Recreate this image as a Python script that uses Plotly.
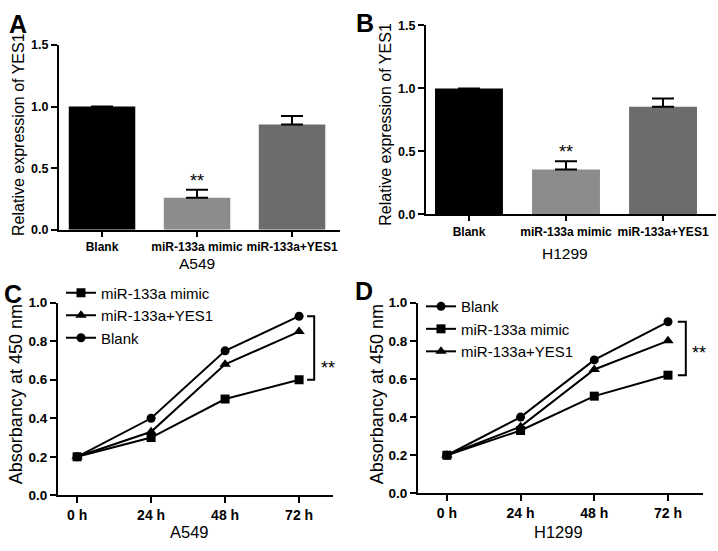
import plotly.graph_objects as go

# ---------------- data ----------------
bar_categories = ["Blank", "miR-133a mimic", "miR-133a+YES1"]
bar_colors = ["#000000", "#8c8c8c", "#6c6c6c"]
a549_expr = [1.0, 0.26, 0.855]
a549_err = [0.0, 0.065, 0.068]
h1299_expr = [1.0, 0.355, 0.855]
h1299_err = [0.0, 0.065, 0.065]

time_labels = ["0 h", "24 h", "48 h", "72 h"]
hours = [0, 24, 48, 72]
a549_mimic = [0.2, 0.30, 0.50, 0.60]
a549_yes1 = [0.2, 0.33, 0.68, 0.85]
a549_blank = [0.2, 0.40, 0.75, 0.93]
h1299_blank = [0.2, 0.40, 0.70, 0.90]
h1299_mimic = [0.2, 0.33, 0.51, 0.62]
h1299_yes1 = [0.2, 0.35, 0.65, 0.80]

FONT = "Arial, Liberation Sans, sans-serif"
W, H = 718, 551


def px_x(p):
    return p / W


def px_y(p):
    return 1 - p / H


fig = go.Figure()

cat_idx = list(range(len(bar_categories)))

# ---------------- bar panels ----------------
for expr, err, xa, ya in [(a549_expr, a549_err, "x", "y"), (h1299_expr, h1299_err, "x2", "y2")]:
    fig.add_trace(go.Bar(
        x=cat_idx, y=expr, xaxis=xa, yaxis=ya, width=0.7,
        marker=dict(color=bar_colors, line=dict(width=0)),
        error_y=dict(type="data", symmetric=False, array=err, arrayminus=[0] * len(err),
                     color="black", thickness=2, width=11),
        showlegend=False,
    ))

# ---------------- line panels ----------------
line_style = dict(color="black", width=2)
sym = {"mimic": "square", "yes1": "triangle-up", "blank": "circle"}
msize = {"mimic": 9, "yes1": 10, "blank": 9}

for name, key, vals in [("miR-133a mimic", "mimic", a549_mimic),
                        ("miR-133a+YES1", "yes1", a549_yes1),
                        ("Blank", "blank", a549_blank)]:
    fig.add_trace(go.Scatter(
        x=hours, y=vals, xaxis="x3", yaxis="y3", mode="lines+markers", name=name,
        line=line_style, marker=dict(symbol=sym[key], size=msize[key], color="black"),
        legend="legend", cliponaxis=False,
    ))

for name, key, vals in [("Blank", "blank", h1299_blank),
                        ("miR-133a mimic", "mimic", h1299_mimic),
                        ("miR-133a+YES1", "yes1", h1299_yes1)]:
    fig.add_trace(go.Scatter(
        x=hours, y=vals, xaxis="x4", yaxis="y4", mode="lines+markers", name=name,
        line=line_style, marker=dict(symbol=sym[key], size=msize[key], color="black"),
        legend="legend2", cliponaxis=False,
    ))

# ---------------- axes ----------------
axis_common = dict(showgrid=False, zeroline=False, showline=True, linecolor="black",
                   linewidth=2, ticks="outside", ticklen=6, tickwidth=2, tickcolor="black")

bar_xtick = dict(family=FONT, size=12, color="black", weight="bold")
bar_ytick = dict(family=FONT, size=12.5, color="black", weight="bold")
line_xtick = dict(family=FONT, size=14, color="black", weight="bold")
line_ytick = dict(family=FONT, size=13.5, color="black", weight="bold")

fig.update_layout(
    xaxis=dict(axis_common, domain=[px_x(59), px_x(340)], range=[-0.453, 2.505], anchor="y",
               tickvals=cat_idx, ticktext=bar_categories, tickfont=bar_xtick, ticklen=5),
    yaxis=dict(axis_common, domain=[px_y(229), px_y(39)], range=[0, 1.5], anchor="x",
               tickvals=[0, 0.5, 1.0, 1.5], tickformat=".1f", tickfont=bar_ytick),
    xaxis2=dict(axis_common, domain=[px_x(426), px_x(716)], range=[-0.443, 2.546], anchor="y2",
                tickvals=cat_idx, ticktext=bar_categories, tickfont=bar_xtick, ticklen=5),
    yaxis2=dict(axis_common, domain=[px_y(213), px_y(19)], range=[0, 1.5], anchor="x2",
                tickvals=[0, 0.5, 1.0, 1.5], tickformat=".1f", tickfont=bar_ytick),
    xaxis3=dict(axis_common, domain=[px_x(58), px_x(333)], range=[-6.2, 83.0], anchor="y3",
                tickvals=hours, ticktext=time_labels, tickfont=line_xtick),
    yaxis3=dict(axis_common, domain=[px_y(502), px_y(304)], range=[0, 1.0], anchor="x3",
                dtick=0.2, tickformat=".1f", tickfont=line_ytick),
    xaxis4=dict(axis_common, domain=[px_x(418), px_x(703)], range=[-9.4, 83.4], anchor="y4",
                tickvals=hours, ticktext=time_labels, tickfont=line_xtick),
    yaxis4=dict(axis_common, domain=[px_y(500), px_y(304)], range=[0, 1.0], anchor="x4",
                dtick=0.2, tickformat=".1f", tickfont=line_ytick),
)

legend_common = dict(font=dict(family=FONT, size=15, color="black"), bgcolor="rgba(0,0,0,0)",
                     borderwidth=0, tracegroupgap=0, itemwidth=30, xanchor="left", yanchor="top",
                     xref="paper", yref="paper")
fig.update_layout(
    legend=dict(legend_common, x=px_x(61), y=px_y(277)),
    legend2=dict(legend_common, x=px_x(421), y=px_y(291)),
)

# ---------------- annotations ----------------
ann = []
# panel letters
for txt, x, y in [("A", 18, 17), ("B", 365, 16), ("C", 13, 295), ("D", 364, 292)]:
    ann.append(dict(text=txt, x=px_x(x), y=px_y(y), xref="paper", yref="paper", showarrow=False,
                    xanchor="center", yanchor="middle",
                    font=dict(family=FONT, size=25, color="black", weight="bold")))
# y titles
for txt, x, y, s in [("Relative expression of YES1", 18.5, 131, 16),
                     ("Relative expression of YES1", 386, 121, 16),
                     ("Absorbancy at 450 nm", 16, 398, 18),
                     ("Absorbancy at 450 nm", 377, 398, 18)]:
    ann.append(dict(text=txt, x=px_x(x), y=px_y(y), xref="paper", yref="paper", showarrow=False,
                    textangle=-90, xanchor="center", yanchor="middle",
                    font=dict(family=FONT, size=s, color="black")))
# x titles
for txt, x, y, s in [("A549", 197, 264, 15.5), ("H1299", 565, 253, 15.5),
                     ("A549", 189, 540, 16.5), ("H1299", 558, 540, 16.5)]:
    ann.append(dict(text=txt, x=px_x(x), y=px_y(y), xref="paper", yref="paper", showarrow=False,
                    xanchor="center", yanchor="middle",
                    font=dict(family=FONT, size=s, color="black")))
# significance over bars
for xr, yr, expr, err in [("x", "y", a549_expr, a549_err), ("x2", "y2", h1299_expr, h1299_err)]:
    ann.append(dict(text="**", x=1, y=expr[1] + err[1], xref=xr, yref=yr, showarrow=False,
                    xanchor="center", yanchor="middle", yshift=9,
                    font=dict(family=FONT, size=18, color="black")))
# significance beside growth curves
ann.append(dict(text="**", x=px_x(328), y=px_y(371), xref="paper", yref="paper", showarrow=False,
                xanchor="center", yanchor="middle", font=dict(family=FONT, size=18, color="black")))
ann.append(dict(text="**", x=px_x(699), y=px_y(356), xref="paper", yref="paper", showarrow=False,
                xanchor="center", yanchor="middle", font=dict(family=FONT, size=18, color="black")))
fig.update_layout(annotations=ann)

# brackets
shapes = []
for xr, yr, top, bot, x0, x1 in [("x3", "y3", a549_blank[-1], a549_mimic[-1], 74.6, 76.9),
                                  ("x4", "y4", h1299_blank[-1], h1299_mimic[-1], 75.2, 77.8)]:
    shapes.append(dict(type="path", xref=xr, yref=yr,
                       path=f"M {x0},{top} L {x1},{top} L {x1},{bot} L {x0},{bot}",
                       line=dict(color="black", width=2)))
fig.update_layout(shapes=shapes)

fig.update_layout(width=W, height=H, margin=dict(l=0, r=0, t=0, b=0),
                  paper_bgcolor="white", plot_bgcolor="white",
                  font=dict(family=FONT, color="black"), bargap=0.3)

fig.write_html("out.html", config={"displayModeBar": False},
               post_script="document.body.style.margin='0';document.body.style.overflow='hidden';")
